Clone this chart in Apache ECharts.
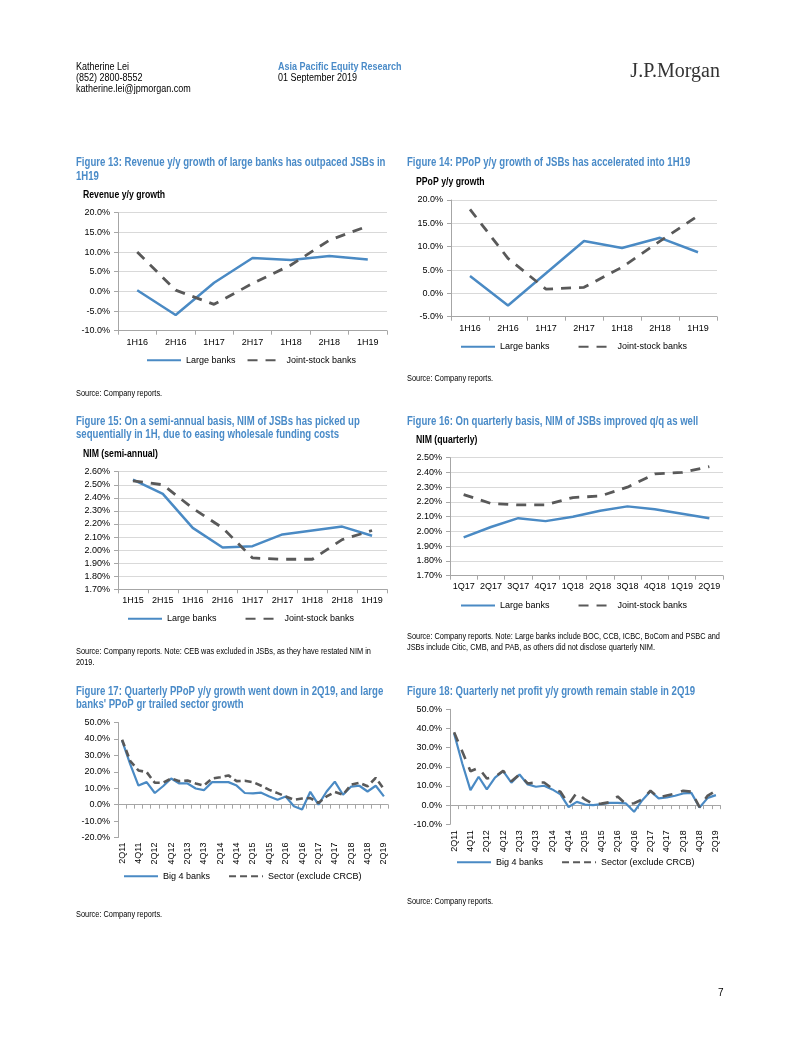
<!DOCTYPE html>
<html><head><meta charset="utf-8">
<script src="https://cdn.jsdelivr.net/npm/echarts@6/dist/echarts.min.js"></script>
<style>html,body{margin:0;padding:0;background:#fff}#c{width:802px;height:1037px}</style>
</head><body><div id="c"></div>
<script>
// ---------- data ----------
const cat13 = ['1H16','2H16','1H17','2H17','1H18','2H18','1H19'];
const large13 = [0.3,-6.0,2.2,8.5,8.0,9.0,8.1];
const jsb13 = [10.0,0.3,-3.3,2.0,6.7,13.0,16.6];

const cat14 = ['1H16','2H16','1H17','2H17','1H18','2H18','1H19'];
const large14 = [3.7,-2.6,4.3,11.2,9.7,11.9,8.8];
const jsb14 = [18.0,7.5,0.9,1.3,5.6,11.2,16.6];

const cat15 = ['1H15','2H15','1H16','2H16','1H17','2H17','1H18','2H18','1H19'];
const large15 = [2.54,2.43,2.17,2.02,2.03,2.12,2.15,2.18,2.11];
const jsb15 = [2.53,2.50,2.32,2.17,1.94,1.93,1.93,2.08,2.15];

const cat16 = ['1Q17','2Q17','3Q17','4Q17','1Q18','2Q18','3Q18','4Q18','1Q19','2Q19'];
const large16 = [1.96,2.03,2.09,2.07,2.10,2.14,2.17,2.15,2.12,2.09];
const jsb16 = [2.25,2.19,2.18,2.18,2.23,2.24,2.30,2.39,2.40,2.44];

const quarters = ['2Q11','3Q11','4Q11','1Q12','2Q12','3Q12','4Q12','1Q13','2Q13','3Q13','4Q13',
  '1Q14','2Q14','3Q14','4Q14','1Q15','2Q15','3Q15','4Q15','1Q16','2Q16','3Q16','4Q16',
  '1Q17','2Q17','3Q17','4Q17','1Q18','2Q18','3Q18','4Q18','1Q19','2Q19'];
const big4_17 = [39,24.5,11.6,13.7,7.1,11.2,15.9,12.9,12.9,9.8,8.8,13.7,13.7,13.7,11.6,7.1,6.9,
  7.3,5,3,5,-1,-3,7.8,0,8,14,6,11,11.5,8,11.5,5];
const sector17 = [39.5,26.5,20.8,19.8,13.3,13.3,15.9,14.3,14.7,12.9,11.6,15.9,16.7,17.8,14.3,14.5,13.7,
  11.5,9,7,5,3,3.7,4,1,5,7.7,6,12.2,13.3,11.2,16.3,9.5];
const big4_18 = [37.4,21.7,7.8,14.8,8.2,14.4,17.7,11.7,16,10.8,9.6,10.1,8.2,5.6,-1,1.7,0.3,
  0,0.5,1.2,1.2,0.9,-3.5,2.6,7.3,3.5,4,4.9,6.1,6.4,-1.2,3.8,5.2];
const sector18 = [38,28,17.7,19.5,13.9,14.8,17.9,12.5,16,11.3,11.8,11.8,8.7,7,0.5,6.5,3,
  0.5,0.8,1.5,4.5,0.5,1,3,7.5,4,5,6,7.5,7,-1,5,7.5];

// ---------- styles ----------
const FONT = "'Liberation Sans',Arial,sans-serif";
const BLUE = '#4a8ac4', GREY = '#595959', TBLUE = '#4a8bc8', AX = '#a6a6a6';
const FS = 9;

const grids = [
  {left:118, top:212.7, width:269, height:118},
  {left:451, top:200, width:266, height:116.7},
  {left:118, top:471.7, width:269, height:117.6},
  {left:450, top:457.7, width:273, height:118},
  {left:118, top:722.5, width:270, height:115},
  {left:450, top:709.3, width:270, height:115}
];

function catAxis(gi, data, margin) {
  return {type:'category', gridIndex:gi, data:data, boundaryGap:true,
    axisLine:{onZero:false, lineStyle:{color:AX}},
    axisTick:{show:true, length:4, lineStyle:{color:AX}},
    axisLabel:{color:'#000', fontSize:FS, fontFamily:FONT, margin:margin, interval:0}};
}
function qLabelAxis(gi, margin) {
  return {type:'category', gridIndex:gi, data:quarters, boundaryGap:true, position:'bottom',
    axisLine:{show:false, onZero:false}, axisTick:{show:false},
    axisLabel:{color:'#000', fontSize:FS, fontFamily:FONT, rotate:90, interval:1, margin:margin}};
}
function qZeroAxis(gi) {
  return {type:'category', gridIndex:gi, data:quarters, boundaryGap:true, position:'bottom',
    axisLine:{show:true, onZero:true, lineStyle:{color:AX}},
    axisTick:{show:true, interval:0, length:4, lineStyle:{color:AX}},
    axisLabel:{show:false}};
}
function valAxis(gi, min, max, interval, dec, grid) {
  return {type:'value', gridIndex:gi, min:min, max:max, interval:interval,
    axisLine:{show:true, lineStyle:{color:AX}},
    axisTick:{show:true, length:4, lineStyle:{color:AX}},
    splitLine:{show:grid, lineStyle:{color:'#d9d9d9'}},
    axisLabel:{color:'#000', fontSize:FS, fontFamily:FONT, margin:8,
      formatter: v => v.toFixed(dec) + '%'}};
}
function solid(name, xi, yi, data, w) {
  return {type:'line', name:name, xAxisIndex:xi, yAxisIndex:yi, data:data, symbol:'none',
    color:BLUE, lineStyle:{color:BLUE, width:w}, z:2};
}
function dashed(name, xi, yi, data, w, dash) {
  return {type:'line', name:name, xAxisIndex:xi, yAxisIndex:yi, data:data, symbol:'none',
    color:GREY, lineStyle:{color:GREY, width:w, type:dash}, z:3};
}
function legend(names, left, cy, gap) {
  return {data:names, left:left, top:cy-5, itemWidth:34, itemHeight:10, itemGap:gap, padding:0,
    selectedMode:false, itemStyle:{opacity:0},
    textStyle:{color:'#000', fontSize:FS, fontFamily:FONT}};
}
function txt(x, y, s, opt) {
  opt = opt || {};
  return {type:'text', x:x, y:y, scaleX:opt.sx || 1, silent:true, style:{text:s, fill:opt.fill || '#000',
    fontSize:opt.size || 10, fontWeight:opt.bold ? 'bold' : 'normal',
    fontFamily:opt.family || FONT, verticalAlign:'middle', align:opt.align || 'left'}};
}
const T = {fill:TBLUE, bold:true, size:12, sx:0.8};
const H = {sx:0.9};
const S = {size:9, sx:0.82};
const U = {bold:true, sx:0.87};

const option = {
  animation:false,
  grid: grids.map(g => Object.assign({containLabel:false}, g)),
  xAxis: [
    catAxis(0, cat13, 7), catAxis(1, cat14, 7), catAxis(2, cat15, 7), catAxis(3, cat16, 6),
    qLabelAxis(4, 5), qZeroAxis(4), qLabelAxis(5, 6), qZeroAxis(5)
  ],
  yAxis: [
    valAxis(0, -10, 20, 5, 1, true), valAxis(1, -5, 20, 5, 1, true),
    valAxis(2, 1.7, 2.6, 0.1, 2, true), valAxis(3, 1.7, 2.5, 0.1, 2, true),
    valAxis(4, -20, 50, 10, 1, false), valAxis(5, -10, 50, 10, 1, false)
  ],
  legend: [
    legend(['Large banks','Joint-stock banks'], 146, 360.7, 11),
    legend(['Large banks','Joint-stock banks'], 460, 347.3, 28),
    legend(['Large banks','Joint-stock banks'], 127, 619.3, 28),
    legend(['Large banks','Joint-stock banks'], 460, 606, 28),
    legend(['Big 4 banks','Sector (exclude CRCB)'], 123, 876.7, 18),
    legend(['Big 4 banks','Sector (exclude CRCB)'], 456, 862.7, 18)
  ],
  series: [
    solid('Large banks', 0, 0, large13, 2.5), dashed('Joint-stock banks', 0, 0, jsb13, 2.8, [10, 8]),
    solid('Large banks', 1, 1, large14, 2.5), dashed('Joint-stock banks', 1, 1, jsb14, 2.8, [10, 8]),
    solid('Large banks', 2, 2, large15, 2.5), dashed('Joint-stock banks', 2, 2, jsb15, 2.8, [10, 8]),
    solid('Large banks', 3, 3, large16, 2.5), dashed('Joint-stock banks', 3, 3, jsb16, 2.8, [10, 8]),
    solid('Big 4 banks', 5, 4, big4_17, 2.2), dashed('Sector (exclude CRCB)', 5, 4, sector17, 2.6, [7, 4]),
    solid('Big 4 banks', 7, 5, big4_18, 2.2), dashed('Sector (exclude CRCB)', 7, 5, sector18, 2.6, [10, 9])
  ],
  graphic: [
    txt(76, 67, 'Katherine Lei', H),
    txt(76, 78, '(852) 2800-8552', H),
    txt(76, 89, 'katherine.lei@jpmorgan.com', H),
    txt(278, 67, 'Asia Pacific Equity Research', {fill:TBLUE, bold:true, sx:0.9}),
    txt(278, 78, '01 September 2019', H),
    txt(720, 72, 'J.P.Morgan', {size:20, family:"'Liberation Serif','DejaVu Serif',serif", fill:'#333', align:'right'}),

    txt(76, 163, 'Figure 13: Revenue y/y growth of large banks has outpaced JSBs in', T),
    txt(76, 176.5, '1H19', T),
    txt(83, 195, 'Revenue y/y growth', U),
    txt(76, 394, 'Source: Company reports.', S),

    txt(407, 163, 'Figure 14: PPoP y/y growth of JSBs has accelerated into 1H19', T),
    txt(416, 182, 'PPoP y/y growth', U),
    txt(407, 379, 'Source: Company reports.', S),

    txt(76, 421.7, 'Figure 15: On a semi-annual basis, NIM of JSBs has picked up', T),
    txt(76, 434.7, 'sequentially in 1H, due to easing wholesale funding costs', T),
    txt(83, 454, 'NIM (semi-annual)', U),
    txt(76, 652, 'Source: Company reports. Note: CEB was excluded in JSBs, as they have restated NIM in', S),
    txt(76, 663, '2019.', S),

    txt(407, 422, 'Figure 16: On quarterly basis, NIM of JSBs improved q/q as well', T),
    txt(416, 440.5, 'NIM (quarterly)', U),
    txt(407, 637, 'Source: Company reports. Note: Large banks include BOC, CCB, ICBC, BoCom and PSBC and', S),
    txt(407, 648, 'JSBs include Citic, CMB, and PAB, as others did not disclose quarterly NIM.', S),

    txt(76, 691.7, 'Figure 17: Quarterly PPoP y/y growth went down in 2Q19, and large', T),
    txt(76, 704.5, "banks' PPoP gr trailed sector growth", T),
    txt(76, 915, 'Source: Company reports.', S),

    txt(407, 691.7, 'Figure 18: Quarterly net profit y/y growth remain stable in 2Q19', T),
    txt(407, 902, 'Source: Company reports.', S),

    txt(718, 993, '7')
  ]
};
const chart = echarts.init(document.getElementById('c'), null, {renderer:'canvas'});
chart.setOption(option);
</script></body></html>
